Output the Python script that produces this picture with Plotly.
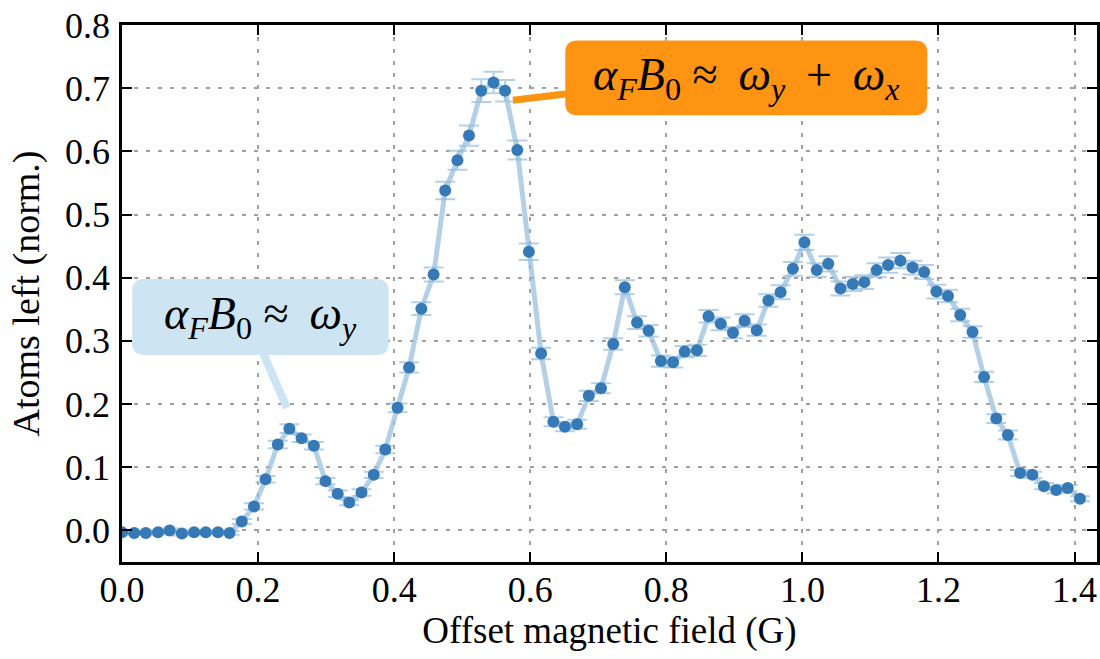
import plotly.graph_objects as go

field_G = [0.000, 0.018, 0.035, 0.053, 0.070, 0.088, 0.106, 0.123, 0.141, 0.158,
           0.176, 0.194, 0.211, 0.229, 0.246, 0.264, 0.282, 0.299, 0.317, 0.334,
           0.352, 0.370, 0.387, 0.405, 0.422, 0.440, 0.458, 0.475, 0.493, 0.510,
           0.528, 0.546, 0.563, 0.581, 0.598, 0.616, 0.634, 0.651, 0.669, 0.686,
           0.704, 0.722, 0.739, 0.757, 0.774, 0.792, 0.810, 0.827, 0.845, 0.862,
           0.880, 0.898, 0.915, 0.933, 0.950, 0.968, 0.986, 1.003, 1.021, 1.038,
           1.056, 1.074, 1.091, 1.109, 1.126, 1.144, 1.162, 1.179, 1.197, 1.214,
           1.232, 1.250, 1.267, 1.285, 1.302, 1.320, 1.338, 1.355, 1.373, 1.390,
           1.408]

atoms_left = [-0.003, -0.004, -0.004, -0.003, 0.000, -0.005, -0.003, -0.003, -0.003, -0.004,
              0.014, 0.038, 0.081, 0.136, 0.161, 0.146, 0.134, 0.078, 0.058, 0.044,
              0.060, 0.088, 0.128, 0.194, 0.258, 0.351, 0.405, 0.538, 0.586, 0.625,
              0.696, 0.709, 0.696, 0.602, 0.441, 0.280, 0.172, 0.164, 0.168, 0.213,
              0.225, 0.295, 0.385, 0.329, 0.316, 0.268, 0.266, 0.283, 0.285, 0.339,
              0.327, 0.313, 0.332, 0.317, 0.364, 0.377, 0.414, 0.456, 0.412, 0.422,
              0.383, 0.390, 0.393, 0.412, 0.420, 0.427, 0.416, 0.409, 0.378, 0.371,
              0.341, 0.314, 0.243, 0.177, 0.151, 0.091, 0.088, 0.070, 0.064, 0.067,
              0.050]

atoms_err = [0.003, 0.003, 0.003, 0.003, 0.003, 0.003, 0.003, 0.003, 0.003, 0.003,
             0.004, 0.005, 0.005, 0.006, 0.007, 0.006, 0.006, 0.005, 0.005, 0.004,
             0.005, 0.005, 0.006, 0.007, 0.008, 0.010, 0.011, 0.014, 0.015, 0.016,
             0.018, 0.017, 0.017, 0.015, 0.013, 0.009, 0.007, 0.007, 0.007, 0.008,
             0.008, 0.009, 0.011, 0.010, 0.009, 0.009, 0.008, 0.009, 0.009, 0.010,
             0.010, 0.009, 0.010, 0.009, 0.010, 0.011, 0.011, 0.012, 0.011, 0.012,
             0.011, 0.011, 0.011, 0.011, 0.012, 0.012, 0.011, 0.011, 0.011, 0.010,
             0.010, 0.009, 0.008, 0.007, 0.007, 0.005, 0.005, 0.005, 0.005, 0.005,
             0.004]

x_ticks = [0.0, 0.2, 0.4, 0.6, 0.8, 1.0, 1.2, 1.4]
y_ticks = [0.0, 0.1, 0.2, 0.3, 0.4, 0.5, 0.6, 0.7, 0.8]

TS = "\u2009"  # thin space, to mimic TeX math spacing
label_omega_y = (f"<i>α</i><sub><i>F</i></sub><i>B</i><sub>0</sub> ≈ {TS}"
                 f"<i>ω</i><sub><i>y</i></sub>")
label_omega_yx = (f"<i>α</i><sub><i>F</i></sub><i>B</i><sub>0</sub> ≈ {TS}"
                  f"<i>ω</i><sub><i>y</i></sub>{TS} + {TS}<i>ω</i><sub><i>x</i></sub>")

FONT = "Liberation Serif"
LIGHT = "rgba(150,190,220,0.72)"
MARK = "#3579b6"
ORANGE = "#ff9312"
PALE = "#cde5f3"

fig = go.Figure()
fig.add_trace(go.Scatter(
    x=field_G, y=atoms_left,
    mode="lines+markers",
    line=dict(color=LIGHT, width=5),
    marker=dict(color=MARK, size=12),
    error_y=dict(type="data", array=atoms_err, visible=True,
                 color=LIGHT, thickness=2, width=10),
    showlegend=False,
))


def rounded_box(x0, x1, y0, y1, rx, ry):
    return (f"M {x0+rx},{y0} L {x1-rx},{y0} Q {x1},{y0} {x1},{y0+ry} "
            f"L {x1},{y1-ry} Q {x1},{y1} {x1-rx},{y1} "
            f"L {x0+rx},{y1} Q {x0},{y1} {x0},{y1-ry} "
            f"L {x0},{y0+ry} Q {x0},{y0} {x0+rx},{y0} Z")


rx, ry = 0.018, 0.019
# connectors
fig.add_shape(type="line", xref="x", yref="y", x0=0.2075, y0=0.28, x1=0.2425, y1=0.194,
              line=dict(color=PALE, width=8))
fig.add_shape(type="line", xref="x", yref="y", x0=0.5745, y0=0.681, x1=0.66, y1=0.692,
              line=dict(color=ORANGE, width=7))
# boxes
fig.add_shape(type="path", xref="x", yref="y",
              path=rounded_box(0.015, 0.392, 0.2775, 0.398, rx, ry),
              fillcolor=PALE, line=dict(width=0))
fig.add_shape(type="path", xref="x", yref="y",
              path=rounded_box(0.6515, 1.1835, 0.657, 0.7755, rx, ry),
              fillcolor=ORANGE, line=dict(width=0))

fig.add_annotation(x=0.2035, y=0.3375, xref="x", yref="y", text=label_omega_y,
                   showarrow=False, font=dict(family=FONT, size=46, color="black"))
fig.add_annotation(x=0.9175, y=0.716, xref="x", yref="y", text=label_omega_yx,
                   showarrow=False, font=dict(family=FONT, size=46, color="black"))

axis_common = dict(
    showline=True, linecolor="black", linewidth=2.5, mirror="ticks",
    ticks="inside", ticklen=10, tickwidth=1.5, tickcolor="black",
    showgrid=True, gridcolor="#a0a0a0", gridwidth=1.5, griddash="4px,8px",
    zeroline=False, tickfont=dict(family=FONT, size=36, color="black"),
    tickformat=".1f",
)

fig.update_xaxes(**axis_common, range=[0, 1.433], tickvals=x_ticks,
                 title=dict(text="Offset magnetic field (G)",
                            font=dict(family=FONT, size=37, color="black"), standoff=4),
                 ticklabelstandoff=-6)
fig.update_yaxes(**axis_common, range=[-0.05, 0.8], tickvals=y_ticks,
                 title=dict(text="Atoms left (norm.)",
                            font=dict(family=FONT, size=38, color="black"), standoff=14),
                 ticklabelstandoff=2)

fig.update_layout(
    width=1100, height=659,
    margin=dict(l=122, r=0, t=25, b=97),
    paper_bgcolor="white", plot_bgcolor="white",
    font=dict(family=FONT, color="black"),
)

fig.write_html("out.html")
